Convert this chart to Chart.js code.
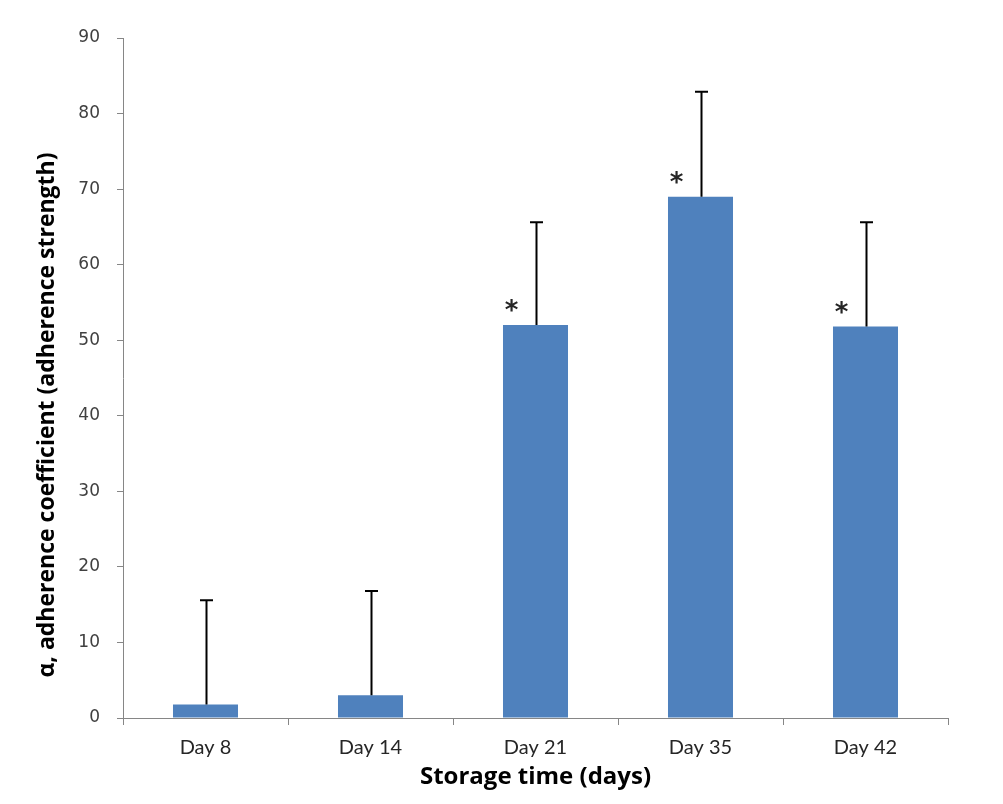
<!DOCTYPE html>
<html>
<head>
<meta charset="utf-8">
<script src="https://cdn.jsdelivr.net/npm/chart.js@4/dist/chart.umd.min.js"></script>
<style>
  html, body { margin: 0; padding: 0; background: #ffffff; }
  #wrap { width: 1003px; height: 804px; }
</style>
</head>
<body>
<div id="wrap"><canvas id="chart" width="1003" height="804"></canvas></div>
<script>
// Storage time points
const days = ['Day 8', 'Day 14', 'Day 21', 'Day 35', 'Day 42'];
// Mean adherence coefficient per time point
const coefficient = [1.8, 3.0, 52.0, 69.0, 51.8];
// Upper error (standard deviation)
const errorUpper = [13.8, 13.8, 13.6, 13.9, 13.8];
// Significance markers
const significant = [false, false, true, true, true];
// Y axis range and step
const yMin = 0, yMax = 90, yStep = 10;

const yTitle = '\u03b1, adherence coefficient (adherence strength)';

// Draws the upward error whiskers and significance asterisks
const errorBarPlugin = {
  id: 'errorBars',
  afterDatasetsDraw(chart) {
    const ctx = chart.ctx;
    const meta = chart.getDatasetMeta(0);
    const yScale = chart.scales.y;
    ctx.save();
    meta.data.forEach((bar, i) => {
      const x = Math.round(bar.x) + 0.5;
      const yTop = yScale.getPixelForValue(coefficient[i]);
      const yErr = yScale.getPixelForValue(coefficient[i] + errorUpper[i]);
      ctx.strokeStyle = '#000000';
      ctx.lineWidth = 2;
      ctx.beginPath();
      ctx.moveTo(x, yTop);
      ctx.lineTo(x, yErr);
      ctx.moveTo(x - 6.5, yErr);
      ctx.lineTo(x + 6.5, yErr);
      ctx.stroke();
      if (significant[i]) {
        ctx.fillStyle = '#262626';
        ctx.font = 'bold 26px "DejaVu Sans"';
        ctx.textAlign = 'center';
        ctx.textBaseline = 'alphabetic';
        ctx.fillText('*', x - 25, yTop - 6);
      }
    });
    ctx.restore();
  }
};

// Rotated y-axis title
const yTitlePlugin = {
  id: 'yTitle',
  afterDraw(chart) {
    const ctx = chart.ctx;
    ctx.save();
    ctx.translate(47, 415);
    ctx.rotate(-Math.PI / 2);
    ctx.font = 'bold 23px "Open Sans"';
    ctx.fillStyle = '#000000';
    ctx.textAlign = 'center';
    ctx.textBaseline = 'middle';
    ctx.fillText(yTitle, 0, 0);
    ctx.restore();
  }
};

new Chart(document.getElementById('chart'), {
  type: 'bar',
  data: {
    labels: days,
    datasets: [{
      data: coefficient,
      backgroundColor: '#4F81BD',
      borderWidth: 0,
      categoryPercentage: 1.0,
      barPercentage: 0.394
    }]
  },
  options: {
    responsive: false,
    animation: false,
    devicePixelRatio: 1,
    layout: { padding: { top: 38, right: 55, left: 0, bottom: 0 } },
    plugins: {
      legend: { display: false },
      tooltip: { enabled: false }
    },
    scales: {
      x: {
        afterFit(scale) { scale.height = 86; },
        grid: {
          offset: true,
          drawOnChartArea: false,
          drawTicks: true,
          tickLength: 7,
          color: '#868686'
        },
        border: { color: '#868686', width: 1 },
        ticks: {
          padding: 11,
          color: '#262626',
          font: { family: 'Lato', size: 20 }
        },
        title: {
          display: true,
          text: 'Storage time (days)',
          color: '#000000',
          font: { family: 'Open Sans', size: 24, weight: 'bold' },
          padding: { top: 0, bottom: 12 }
        }
      },
      y: {
        min: yMin,
        max: yMax,
        afterFit(scale) { scale.width = 123; },
        grid: {
          drawOnChartArea: false,
          drawTicks: true,
          tickLength: 6,
          color: '#868686'
        },
        border: { color: '#868686', width: 1 },
        ticks: {
          stepSize: yStep,
          padding: 17,
          color: '#404040',
          font: { family: 'DejaVu Sans', size: 17 }
        }
      }
    }
  },
  plugins: [errorBarPlugin, yTitlePlugin]
});
</script>
</body>
</html>
